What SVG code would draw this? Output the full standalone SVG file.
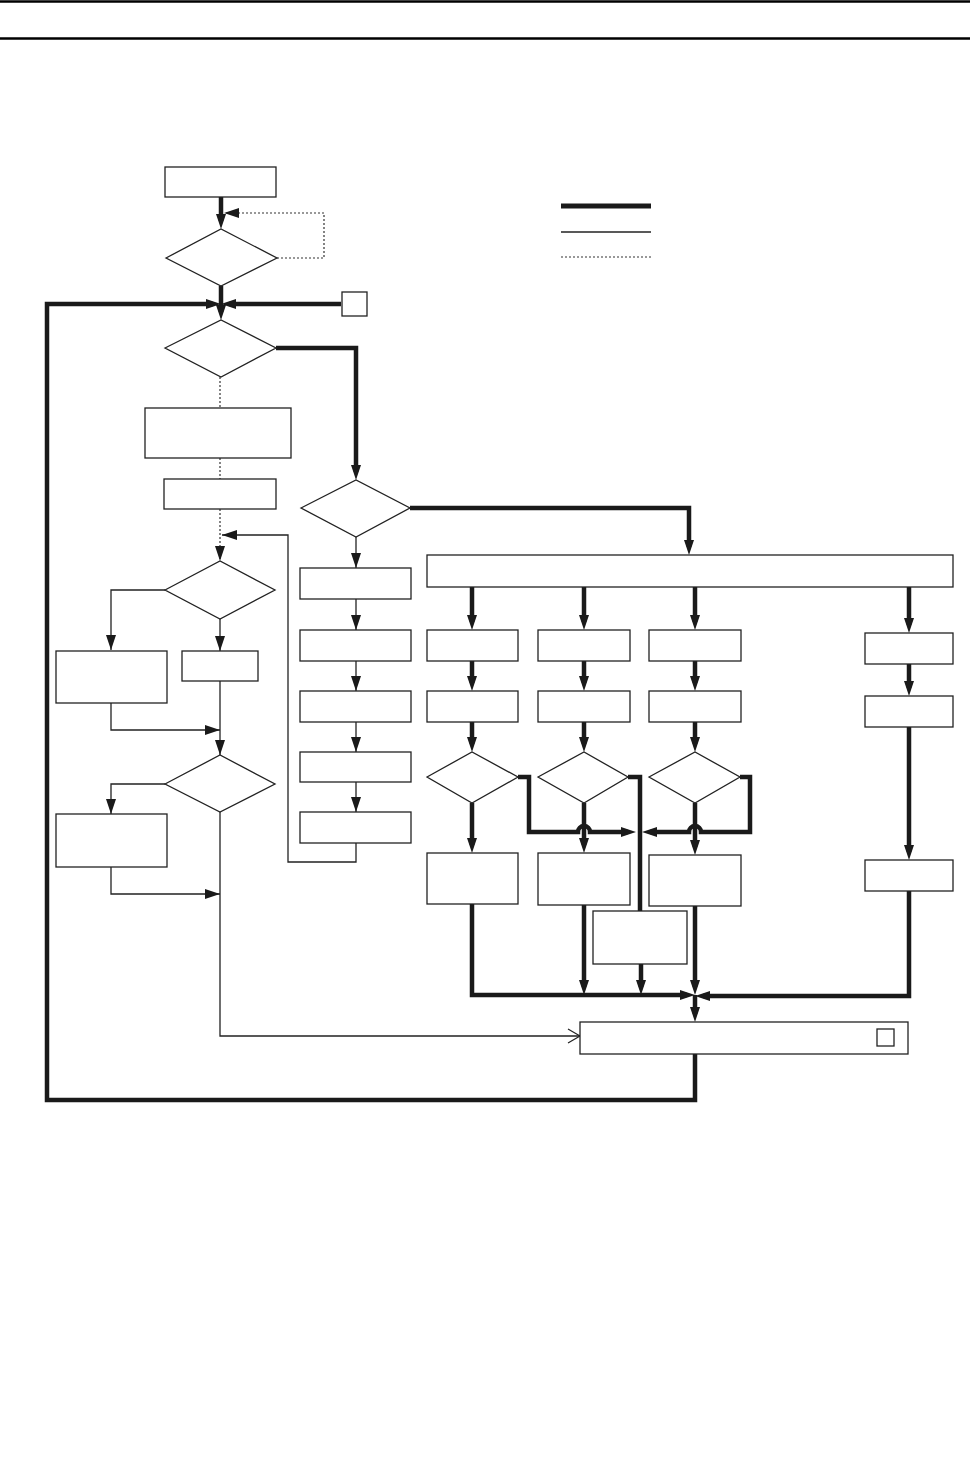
<svg xmlns="http://www.w3.org/2000/svg" width="970" height="1474" viewBox="0 0 970 1474">
<style>
.box{fill:#fff;stroke:#222;stroke-width:1.3}
.thick{fill:none;stroke:#1a1a1a;stroke-width:4.5}
.thin{fill:none;stroke:#222;stroke-width:1.3}
.dot{fill:none;stroke:#333;stroke-width:1.2;stroke-dasharray:2,2}
.rule{stroke:#000;stroke-width:2.5}
</style>
<defs>
<marker id="at" markerUnits="userSpaceOnUse" markerWidth="15" markerHeight="10" refX="7" refY="5" orient="auto" overflow="visible"><path d="M0,0 L15,5 L0,10 z" fill="#1a1a1a"/></marker>
<marker id="a" markerUnits="userSpaceOnUse" markerWidth="15" markerHeight="10" refX="15" refY="5" orient="auto" overflow="visible"><path d="M0,0 L15,5 L0,10 z" fill="#1a1a1a"/></marker>
<marker id="oa" markerUnits="userSpaceOnUse" markerWidth="12" markerHeight="14" refX="12" refY="7" orient="auto" overflow="visible"><path d="M0,0 L12,7 L0,14" fill="none" stroke="#222" stroke-width="1.2"/></marker>
</defs>
<rect width="970" height="1474" fill="#fff"/>
<line class="rule" x1="0" y1="1.5" x2="970" y2="1.5"/>
<line class="rule" x1="0" y1="38.5" x2="970" y2="38.5"/>

<g id="legend">
<line x1="561" y1="206" x2="651" y2="206" stroke="#1a1a1a" stroke-width="5"/>
<line x1="561" y1="232" x2="651" y2="232" stroke="#222" stroke-width="1.3"/>
<line x1="561" y1="257" x2="651" y2="257" stroke="#333" stroke-width="1.2" stroke-dasharray="2,2"/>
</g>

<g id="connectors">
<!-- thick -->
<path class="thick" d="M221,197 L221,221" marker-end="url(#at)"/>
<path class="thick" d="M221,286 L221,312" marker-end="url(#at)"/>
<path class="thick" d="M695,1054 L695,1100 L47,1100 L47,304 L213,304" marker-end="url(#at)"/>
<path class="thick" d="M341,304 L229,304" marker-end="url(#at)"/>
<path class="thick" d="M276,348 L356,348 L356,472" marker-end="url(#at)"/>
<path class="thick" d="M410,508 L689,508 L689,547" marker-end="url(#at)"/>
<path class="thick" d="M472,587 L472,622" marker-end="url(#at)"/>
<path class="thick" d="M584,587 L584,622" marker-end="url(#at)"/>
<path class="thick" d="M695,587 L695,622" marker-end="url(#at)"/>
<path class="thick" d="M909,587 L909,625" marker-end="url(#at)"/>
<path class="thick" d="M472,661 L472,683" marker-end="url(#at)"/>
<path class="thick" d="M584,661 L584,683" marker-end="url(#at)"/>
<path class="thick" d="M695,661 L695,683" marker-end="url(#at)"/>
<path class="thick" d="M909,664 L909,688" marker-end="url(#at)"/>
<path class="thick" d="M472,722 L472,744" marker-end="url(#at)"/>
<path class="thick" d="M584,722 L584,744" marker-end="url(#at)"/>
<path class="thick" d="M695,722 L695,744" marker-end="url(#at)"/>
<path class="thick" d="M909,727 L909,852" marker-end="url(#at)"/>
<path class="thick" d="M472,803 L472,845" marker-end="url(#at)"/>
<path class="thick" d="M584,803 L584,845" marker-end="url(#at)"/>
<path class="thick" d="M695,803 L695,847" marker-end="url(#at)"/>
<path class="thick" d="M518,777 L529,777 L529,832 L578,832 A6,6 0 0 1 590,832 L628,832" marker-end="url(#at)"/>
<path class="thick" d="M740,777 L750,777 L750,832 L701,832 A6,6 0 0 0 689,832 L650,832" marker-end="url(#at)"/>
<path class="thick" d="M628,777 L640,777 L640,911"/>
<path class="thick" d="M472,904 L472,995 L687,995" marker-end="url(#at)"/>
<path class="thick" d="M584,905 L584,987" marker-end="url(#at)"/>
<path class="thick" d="M641,964 L641,987" marker-end="url(#at)"/>
<path class="thick" d="M695,906 L695,987" marker-end="url(#at)"/>
<path class="thick" d="M909,891 L909,996 L703,996" marker-end="url(#at)"/>
<path class="thick" d="M695,995 L695,1014" marker-end="url(#at)"/>
<!-- thin -->
<path class="thin" d="M356,537 L356,568" marker-end="url(#a)"/>
<path class="thin" d="M356,599 L356,630" marker-end="url(#a)"/>
<path class="thin" d="M356,661 L356,691" marker-end="url(#a)"/>
<path class="thin" d="M356,722 L356,752" marker-end="url(#a)"/>
<path class="thin" d="M356,782 L356,812" marker-end="url(#a)"/>
<path class="thin" d="M356,843 L356,862 L288,862 L288,535 L222,535" marker-end="url(#a)"/>
<path class="thin" d="M165,590 L111,590 L111,650" marker-end="url(#a)"/>
<path class="thin" d="M220,619 L220,651" marker-end="url(#a)"/>
<path class="thin" d="M111,703 L111,730 L220,730" marker-end="url(#a)"/>
<path class="thin" d="M220,681 L220,755" marker-end="url(#a)"/>
<path class="thin" d="M165,784 L111,784 L111,814" marker-end="url(#a)"/>
<path class="thin" d="M111,867 L111,894 L220,894" marker-end="url(#a)"/>
<path class="thin" d="M220,812 L220,1036 L580,1036" marker-end="url(#oa)"/>
<!-- dotted -->
<path class="dot" d="M277,258 L324,258 L324,213 L224,213" marker-end="url(#a)"/>
<path class="dot" d="M220,377 L220,408"/>
<path class="dot" d="M220,458 L220,479"/>
<path class="dot" d="M220,509 L220,561" marker-end="url(#a)"/>
</g>

<g id="n-start"><rect class="box" x="165" y="167" width="111" height="30"/></g>
<g id="n-d1"><polygon class="box" points="166,258 221,229 277,258 221,286"/></g>
<g id="n-ref"><rect class="box" x="342" y="292" width="25" height="24"/></g>
<g id="n-d2"><polygon class="box" points="165,348 221,320 276,348 221,377"/></g>
<g id="n-a"><rect class="box" x="145" y="408" width="146" height="50"/></g>
<g id="n-b"><rect class="box" x="164" y="479" width="112" height="30"/></g>
<g id="n-d3"><polygon class="box" points="301,508 356,480 410,508 356,537"/></g>
<g id="n-s1"><rect class="box" x="300" y="568" width="111" height="31"/></g>
<g id="n-s2"><rect class="box" x="300" y="630" width="111" height="31"/></g>
<g id="n-s3"><rect class="box" x="300" y="691" width="111" height="31"/></g>
<g id="n-s4"><rect class="box" x="300" y="752" width="111" height="30"/></g>
<g id="n-s5"><rect class="box" x="300" y="812" width="111" height="31"/></g>
<g id="n-d4"><polygon class="box" points="165,590 220,561 275,590 220,619"/></g>
<g id="n-d"><rect class="box" x="56" y="651" width="111" height="52"/></g>
<g id="n-e"><rect class="box" x="182" y="651" width="76" height="30"/></g>
<g id="n-d5"><polygon class="box" points="165,784 220,755 275,784 220,812"/></g>
<g id="n-f"><rect class="box" x="56" y="814" width="111" height="53"/></g>
<g id="n-wide"><rect class="box" x="427" y="555" width="526" height="32"/></g>
<g id="n-c1r1"><rect class="box" x="427" y="630" width="91" height="31"/></g>
<g id="n-c2r1"><rect class="box" x="538" y="630" width="92" height="31"/></g>
<g id="n-c3r1"><rect class="box" x="649" y="630" width="92" height="31"/></g>
<g id="n-c4r1"><rect class="box" x="865" y="633" width="88" height="31"/></g>
<g id="n-c1r2"><rect class="box" x="427" y="691" width="91" height="31"/></g>
<g id="n-c2r2"><rect class="box" x="538" y="691" width="92" height="31"/></g>
<g id="n-c3r2"><rect class="box" x="649" y="691" width="92" height="31"/></g>
<g id="n-c4r2"><rect class="box" x="865" y="696" width="88" height="31"/></g>
<g id="n-c1d"><polygon class="box" points="427,777 472,752 518,777 472,803"/></g>
<g id="n-c2d"><polygon class="box" points="538,777 584,752 628,777 584,803"/></g>
<g id="n-c3d"><polygon class="box" points="649,777 695,752 740,777 695,803"/></g>
<g id="n-c1r3"><rect class="box" x="427" y="853" width="91" height="51"/></g>
<g id="n-c2r3"><rect class="box" x="538" y="853" width="92" height="52"/></g>
<g id="n-c3r3"><rect class="box" x="649" y="855" width="92" height="51"/></g>
<g id="n-c4r3"><rect class="box" x="865" y="860" width="88" height="31"/></g>
<g id="n-cbox"><rect class="box" x="593" y="911" width="94" height="53"/></g>
<g id="n-end"><rect class="box" x="580" y="1022" width="328" height="32"/><rect class="box" x="877" y="1029" width="17" height="17"/></g>
</svg>
